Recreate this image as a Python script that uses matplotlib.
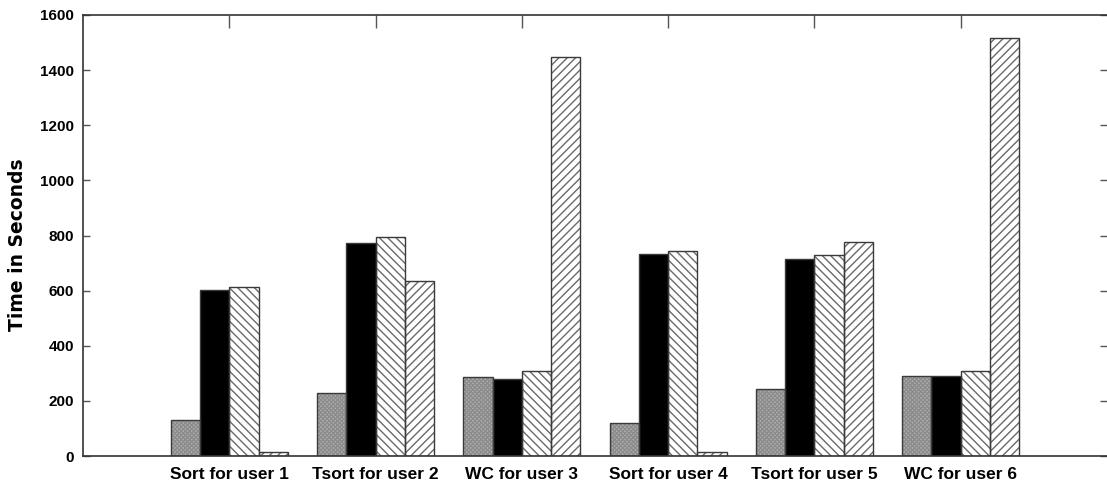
import matplotlib
matplotlib.use("Agg")
import matplotlib.pyplot as plt
import numpy as np

# Job runtimes per user workload
jobs = ["Sort for user 1", "Tsort for user 2", "WC for user 3",
        "Sort for user 4", "Tsort for user 5", "WC for user 6"]
sched_a = [130, 230, 288, 120, 242, 290]
sched_b = [601, 774, 278, 733, 716, 290]
sched_c = [613, 795, 307, 744, 729, 310]
sched_d = [13, 636, 1446, 16, 776, 1515]
y_ticks = [0, 200, 400, 600, 800, 1000, 1200, 1400, 1600]

plt.rcParams['hatch.linewidth'] = 1.0
tick_font = ['Liberation Sans', 'DejaVu Sans']

fig = plt.figure(figsize=(11.07, 5.04), dpi=100)
ax = fig.add_axes([83 / 1107, 48 / 504, 1 - 83 / 1107, 441 / 504])

x = np.arange(len(jobs))
w = 0.2
series = [
    (sched_a, '#b0b0b0', 'xxxxxxxx', '#8c8c8c'),
    (sched_b, 'black', None, 'black'),
    (sched_c, 'white', '\\\\\\\\', '#6a6a6a'),
    (sched_d, 'white', '////', '#6a6a6a'),
]
for i, (vals, face, hatch, hcol) in enumerate(series):
    pos = x + (i - 1.5) * w
    ax.bar(pos, vals, width=w, color=face, hatch=hatch,
           edgecolor=hcol, linewidth=0, zorder=2)
    ax.bar(pos, vals, width=w, fill=False, edgecolor='#3a3a3a',
           linewidth=1.0, zorder=3)

ax.set_xlim(-1, 6)
ax.set_ylim(0, 1600)
ax.set_yticks(y_ticks)
ax.set_yticklabels([str(v) for v in y_ticks], family=tick_font,
                   fontweight='bold', fontsize=11)
ax.set_xticks(x)
ax.set_xticklabels(jobs, family=tick_font, fontweight='bold', fontsize=12.5)

ax.tick_params(axis='y', direction='in', length=5, width=1,
               color='#555555', left=True, right=True, pad=6.5)
ax.tick_params(axis='x', direction='in', length=9, width=1,
               color='#555555', top=True, bottom=False, pad=8)

for side in ('left', 'top', 'bottom'):
    ax.spines[side].set_color('#333333')
    ax.spines[side].set_linewidth(1.2)
ax.spines['right'].set_visible(False)

ax.set_ylabel("Time in Seconds", family='DejaVu Sans',
              fontweight='bold', fontsize=13.5)
ax.yaxis.set_label_coords(-0.055, 0.48)

fig.savefig("out.png", dpi=100)
